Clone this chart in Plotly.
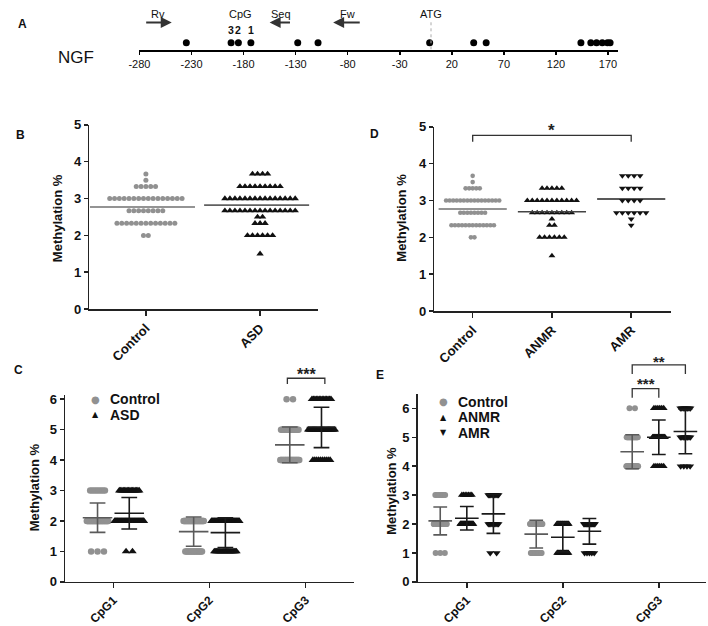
import numpy as np
import plotly.graph_objects as go

W, H = 708, 626

# ---------------- data ----------------
# Panel A: CpG sites in the NGF region (bp relative to ATG)
cpg_sites = [-235, -192, -185, -173, -128, -108.5, -1.3, 41, 53, 144, 153.5, 159, 164.5, 169.5, 172]
a_tick_values = [-280, -230, -180, -130, -80, -30, 20, 70, 120, 170]
a_tick_labels = ["-280", "-230", "-180", "-130", "-80", "-30", "20", "70", "120", "170"]
primer_names = ["Rv", "Seq", "Fw"]
primer_start = [-275, -134, -67]
primer_end = [-249, -155, -94]
analysed_cpg_labels = ["3", "2", "1"]
analysed_cpg_sites = [-192, -185, -173]
atg_position = 0

# Panels B and D: mean methylation per subject (levels and number of subjects)
meth_levels = [3.67, 3.5, 3.33, 3.0, 2.67, 2.5, 2.33, 2.0, 1.5]
control_counts = [1, 1, 5, 16, 8, 0, 13, 2, 0]
asd_counts = [4, 0, 9, 15, 15, 2, 3, 6, 1]
anmr_counts = [0, 0, 5, 11, 9, 1, 2, 6, 1]
amr_counts = [4, 0, 4, 4, 6, 1, 1, 0, 0]
b_categories = ["Control", "ASD"]
d_categories = ["Control", "ANMR", "AMR"]

# Panels C and E: methylation per CpG site
cpg_names = ["CpG1", "CpG2", "CpG3"]
cpg_levels = [[1, 2, 3], [1, 2, 3], [4, 5, 6]]
control_cpg_counts = [[3, 35, 8], [16, 30, 0], [25, 19, 2]]
asd_cpg_counts = [[2, 37, 16], [21, 34, 0], [10, 31, 14]]
anmr_cpg_counts = [[0, 28, 7], [16, 19, 0], [6, 23, 6]]
amr_cpg_counts = [[2, 9, 9], [5, 15, 0], [4, 8, 8]]

# ---------------- styling / geometry ----------------
FONT = "Liberation Sans, Arial, sans-serif"
AXC = "#222222"
GREY = "#919191"
BLACK = "#111111"

panels = {
    "A": dict(ax="", x0=130.5, x1=617, y0=0, y1=44.3, xr=[-280, 180], yr=[0, 1]),
    "B": dict(ax="2", x0=79.5, x1=312, y0=121, y1=310, xr=[-0.496, 1.509], yr=[0, 5]),
    "D": dict(ax="3", x0=430, x1=670, y0=123, y1=312, xr=[-0.484, 2.497], yr=[0, 5]),
    "C": dict(ax="4", x0=55, x1=348, y0=397.8, y1=590, xr=[-0.502, 2.499], yr=[0, 6.15]),
    "E": dict(ax="5", x0=413, x1=706, y0=397, y1=590, xr=[-0.513, 2.492], yr=[0, 6.5]),
}
for p in panels.values():
    p["ppu"] = (p["x1"] - p["x0"]) / (p["xr"][1] - p["xr"][0])
    p["ppv"] = (p["y1"] - p["y0"]) / (p["yr"][1] - p["yr"][0])


def P(x):
    return x / W


def Q(y):
    return 1 - y / H


def xd2p(k, x):
    p = panels[k]
    return P(p["x0"] + (x - p["xr"][0]) * p["ppu"])


fig = go.Figure()


def axes_of(k):
    a = panels[k]["ax"]
    return "x" + a, "y" + a


def txt(x, y, text, size=13, bold=False, color="#111", family=FONT, xanchor="center", angle=0):
    f = dict(family=family, size=size, color=color)
    if bold:
        f["weight"] = "bold"
    return dict(x=P(x), y=Q(y), xref="paper", yref="paper", text=text, showarrow=False,
                xanchor=xanchor, yanchor="middle", textangle=angle, font=f)


# ---------------- Panel A ----------------
xa, ya = axes_of("A")
fig.add_trace(go.Scatter(
    x=cpg_sites, y=[0.17] * len(cpg_sites), mode="markers",
    marker=dict(symbol="circle", size=7, color="#000000"),
    xaxis=xa, yaxis=ya, showlegend=False, hoverinfo="skip", cliponaxis=False))

annotations = []
shapes = []

for name, s, e in zip(primer_names, primer_start, primer_end):
    annotations.append(dict(x=e, y=0.64, ax=s, ay=0.64, xref=xa, yref=ya, axref=xa, ayref=ya,
                            text="", showarrow=True, arrowhead=2, arrowsize=1.1, arrowwidth=2,
                            arrowcolor="#333333"))
    annotations.append(dict(x=(s + e) / 2, y=0.835, xref=xa, yref=ya, text=name, showarrow=False,
                            xanchor="center", yanchor="middle",
                            font=dict(family=FONT, size=11, color="#111")))
annotations.append(dict(x=float(np.mean(analysed_cpg_sites)), y=0.835, xref=xa, yref=ya, text="CpG",
                        showarrow=False, xanchor="center", yanchor="middle",
                        font=dict(family=FONT, size=11, color="#111")))
for lab, s in zip(analysed_cpg_labels, analysed_cpg_sites):
    annotations.append(dict(x=s, y=0.46, xref=xa, yref=ya, text=lab, showarrow=False,
                            xanchor="center", yanchor="middle",
                            font=dict(family=FONT, size=10.5, color="#111", weight="bold")))
annotations.append(dict(x=atg_position, y=0.835, xref=xa, yref=ya, text="ATG", showarrow=False,
                        xanchor="center", yanchor="middle",
                        font=dict(family=FONT, size=11, color="#111")))
shapes.append(dict(type="line", xref=xa, yref=ya, x0=atg_position, x1=atg_position, y0=0.02, y1=0.70,
                   line=dict(color="#aaaaaa", width=1, dash="dot")))
annotations.append(txt(66, 52, "NGF", size=17))


# ---------------- Panels B and D ----------------
def row_points(levels, counts, center, spacing):
    xs, ys = [], []
    for v, n in zip(levels, counts):
        if n == 0:
            continue
        off = (np.arange(n) - (n - 1) / 2) * spacing
        xs.extend(center + off)
        ys.extend([v] * n)
    return xs, ys


def scatter_panel(k, groups):
    xa, ya = axes_of(k)
    ppu = panels[k]["ppu"]
    for i, g in enumerate(groups):
        xs, ys = row_points(meth_levels, g["counts"], i, g["sp"] / ppu)
        fig.add_trace(go.Scatter(
            x=xs, y=ys, mode="markers",
            marker=dict(symbol=g["sym"], size=g["size"], color=g["color"], line=dict(width=0)),
            xaxis=xa, yaxis=ya, showlegend=False, hoverinfo="skip", cliponaxis=False))
        vals = np.repeat(meth_levels, g["counts"])
        m = float(np.mean(vals))
        fig.add_trace(go.Scatter(
            x=[i - g["hl"], i + g["hr"]], y=[m, m], mode="lines",
            line=dict(color=g["lc"], width=1.6),
            xaxis=xa, yaxis=ya, showlegend=False, hoverinfo="skip"))


scatter_panel("B", [
    dict(counts=control_counts, sym="circle", size=5, color=GREY, sp=4.9, hl=0.49, hr=0.43, lc="#707070"),
    dict(counts=asd_counts, sym="triangle-up", size=6.5, color=BLACK, sp=5.1, hl=0.49, hr=0.43, lc="#606060"),
])
scatter_panel("D", [
    dict(counts=control_counts, sym="circle", size=4.6, color=GREY, sp=3.6, hl=0.43, hr=0.43, lc="#707070"),
    dict(counts=anmr_counts, sym="triangle-up", size=6, color=BLACK, sp=5.0, hl=0.43, hr=0.43, lc="#444444"),
    dict(counts=amr_counts, sym="triangle-down", size=6, color=BLACK, sp=6.0, hl=0.43, hr=0.43, lc="#222222"),
])


# ---------------- Panels C and E ----------------
def blob_points(levels, counts, center, max_sp, base, per_n):
    xs, ys = [], []
    for v, n in zip(levels, counts):
        if n == 0:
            continue
        span = min((n - 1) * max_sp, base + per_n * n)
        if n > 1:
            off = np.linspace(-span / 2, span / 2, n)
        else:
            off = np.array([0.0])
        xs.extend(center + off)
        ys.extend([v] * n)
    return xs, ys


def cpg_panel(k, groups, offsets, hw_mean, hw_cap):
    xa, ya = axes_of(k)
    ppu = panels[k]["ppu"]
    for g, off in zip(groups, offsets):
        for j in range(len(cpg_names)):
            c = j + off
            xs, ys = blob_points(cpg_levels[j], g["counts"][j], c, g["sp"] / ppu,
                                 g["base"] / ppu, g["pern"] / ppu)
            fig.add_trace(go.Scatter(
                x=xs, y=ys, mode="markers",
                marker=dict(symbol=g["sym"], size=g["size"], color=g["color"], line=dict(width=0)),
                xaxis=xa, yaxis=ya, showlegend=False, hoverinfo="skip", cliponaxis=False))
    for g, off in zip(groups, offsets):
        ex, ey = [], []
        for j in range(len(cpg_names)):
            c = j + off
            vals = np.repeat(cpg_levels[j], g["counts"][j])
            m = float(np.mean(vals))
            sd = float(np.std(vals, ddof=1))
            hm, hc = hw_mean / ppu, hw_cap / ppu
            ex += [c - hm, c + hm, None, c, c, None, c - hc, c + hc, None, c - hc, c + hc, None]
            ey += [m, m, None, m - sd, m + sd, None, m - sd, m - sd, None, m + sd, m + sd, None]
        fig.add_trace(go.Scatter(
            x=ex, y=ey, mode="lines", line=dict(color=g["lc"], width=1.6),
            xaxis=xa, yaxis=ya, showlegend=False, hoverinfo="skip", cliponaxis=False))


cpg_panel("C", [
    dict(counts=control_cpg_counts, sym="circle", size=6.5, color=GREY, sp=6.5, base=13, pern=0.25, lc="#5a5a5a"),
    dict(counts=asd_cpg_counts, sym="triangle-up", size=7.5, color=BLACK, sp=6.5, base=13, pern=0.45, lc="#1a1a1a"),
], [-0.165, 0.165], 15, 8)

cpg_panel("E", [
    dict(counts=control_cpg_counts, sym="circle", size=6, color=GREY, sp=5.5, base=9, pern=0.12, lc="#5a5a5a"),
    dict(counts=anmr_cpg_counts, sym="triangle-up", size=7, color=BLACK, sp=6.5, base=9, pern=0.15, lc="#1a1a1a"),
    dict(counts=amr_cpg_counts, sym="triangle-down", size=7, color=BLACK, sp=6.5, base=9, pern=0.15, lc="#1a1a1a"),
], [-0.277, 0.0, 0.277], 12, 7)

# ---------------- axes ----------------
layout_axes = {}


def set_axes(k, xtickvals, xticktext, ytickvals, a_style=False, xfs=13):
    p = panels[k]
    a = p["ax"]
    xname = "xaxis" + a
    yname = "yaxis" + a
    xdom = [P(p["x0"]), P(p["x1"])]
    ydom = [Q(p["y1"]), Q(p["y0"])]
    if a_style:
        layout_axes[xname] = dict(domain=xdom, range=p["xr"], anchor="y" + a, showline=True,
                                  linecolor="#000", linewidth=2, ticks="outside", ticklen=3,
                                  tickwidth=1.5, tickcolor="#000", tickvals=xtickvals, ticktext=xticktext,
                                  tickfont=dict(family="Liberation Sans Narrow, " + FONT, size=11, color="#111"),
                                  showgrid=False, zeroline=False, fixedrange=True)
        layout_axes[yname] = dict(domain=ydom, range=p["yr"], anchor="x" + a, visible=False,
                                  showgrid=False, zeroline=False, fixedrange=True)
        return
    layout_axes[xname] = dict(domain=xdom, range=p["xr"], anchor="y" + a, showline=True,
                              linecolor=AXC, linewidth=1.5, ticks="outside", ticklen=5,
                              tickwidth=1.5, tickcolor=AXC, tickvals=xtickvals, ticktext=xticktext,
                              tickangle=-45,
                              tickfont=dict(family=FONT, size=xfs, color="#111", weight="bold"),
                              showgrid=False, zeroline=False, fixedrange=True)
    layout_axes[yname] = dict(domain=ydom, range=p["yr"], anchor="x" + a, showline=True,
                              linecolor=AXC, linewidth=1.5, ticks="outside", ticklen=4,
                              tickwidth=1.5, tickcolor=AXC, tickvals=ytickvals,
                              tickfont=dict(family=FONT, size=13, color="#111", weight="bold"),
                              showgrid=False, zeroline=False, fixedrange=True)


set_axes("A", a_tick_values, a_tick_labels, None, a_style=True)
set_axes("B", list(range(len(b_categories))), b_categories, [0, 1, 2, 3, 4, 5])
set_axes("D", list(range(len(d_categories))), d_categories, [0, 1, 2, 3, 4, 5])
set_axes("C", list(range(len(cpg_names))), cpg_names, [0, 1, 2, 3, 4, 5, 6], xfs=12)
set_axes("E", list(range(len(cpg_names))), cpg_names, [0, 1, 2, 3, 4, 5, 6], xfs=12)

# ---------------- titles / labels ----------------
ytitle_pos = [(46.7, 216.7), (396.7, 216.7), (23.3, 493), (385.7, 496.7)]
for (x, y) in ytitle_pos:
    annotations.append(txt(x, y, "Methylation %", size=13, bold=True, angle=-90))

for lab, (x, y) in zip(["A", "B", "D", "C", "E"],
                       [(12, 17), (9.5, 131), (369, 130), (7.5, 373), (375, 378)]):
    annotations.append(txt(x, y, lab, size=12, bold=True))

# legends (C and E)
leg_c = [("●", GREY, "Control", 402.3, 10), ("▲", BLACK, "ASD", 418.3, 8)]
for g, col, t, y, s in leg_c:
    annotations.append(txt(85.7, y, g, size=s, color=col, family="DejaVu Sans"))
    annotations.append(txt(98.5, y, t, size=14, bold=True, xanchor="left"))
leg_e = [("●", GREY, "Control", 405, 10), ("▲", BLACK, "ANMR", 421, 8), ("▼", BLACK, "AMR", 437, 8)]
for g, col, t, y, s in leg_e:
    annotations.append(txt(439, y, g, size=s, color=col, family="DejaVu Sans"))
    annotations.append(txt(452, y, t, size=14, bold=True, xanchor="left"))


# significance brackets
def bracket(k, xa_, xb_, y_top_px, y_end_px, label, label_px, size=16):
    x0, x1 = xd2p(k, xa_), xd2p(k, xb_)
    yt, ye = Q(y_top_px), Q(y_end_px)
    shapes.append(dict(type="path", xref="paper", yref="paper",
                       path=f"M {x0},{ye} L {x0},{yt} L {x1},{yt} L {x1},{ye}",
                       line=dict(color="#333", width=1.3)))
    a = txt(0, label_px, label, size=size, color="#222", bold=True)
    a["x"] = (x0 + x1) / 2
    annotations.append(a)


bracket("D", 0, 2, 131.7, 138.3, "*", 127, size=17)
bracket("C", 2 - 0.19, 2 + 0.2, 381, 387, "***", 377, size=16)
bracket("E", 2 - 0.277, 2.0, 391.7, 401, "***", 386, size=15)
bracket("E", 2 - 0.277, 2.277, 367.3, 376.7, "**", 364, size=15)

fig.update_layout(
    width=W, height=H, autosize=False,
    margin=dict(l=0, r=0, t=0, b=0),
    paper_bgcolor="white", plot_bgcolor="white",
    showlegend=False,
    annotations=annotations, shapes=shapes,
    font=dict(family=FONT),
    **layout_axes,
)

fig.write_html("out.html", config={"displayModeBar": False, "staticPlot": True},
               post_script="document.body.style.margin='0px';")
